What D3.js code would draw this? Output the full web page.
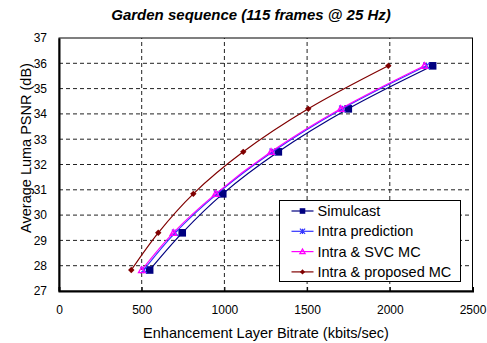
<!DOCTYPE html>
<html>
<head>
<meta charset="utf-8">
<script src="https://cdn.jsdelivr.net/npm/d3@7"></script>
<style>
  body { margin: 0; background: #fff; }
  svg { display: block; font-family: "Liberation Sans", Arial, sans-serif; }
</style>
</head>
<body>
<div id="chart"></div>
<script>
const seriesNames = ['Simulcast', 'Intra prediction', 'Intra & SVC MC', 'Intra & proposed MC'];
const psnr = [27.83, 29.3, 30.84, 32.5, 34.2, 35.9];
const simulcastRate = [548, 745, 990, 1326, 1749, 2259];
const intraRate = [512, 702, 956, 1292, 1713, 2222];
const svcRate = [500, 691, 947, 1282, 1703, 2209];
const proposedRate = [437, 600, 812, 1114, 1507, 1991];
const xTicks = [0, 500, 1000, 1500, 2000, 2500];
const yTicks = [27, 28, 29, 30, 31, 32, 33, 34, 35, 36, 37];

const width = 487, height = 343;
const margin = { top: 38, right: 14.5, bottom: 52, left: 59 };

const series = [
  { name: seriesNames[0], rates: simulcastRate, color: '#000080', marker: 'square' },
  { name: seriesNames[1], rates: intraRate, color: '#3333ff', marker: 'star' },
  { name: seriesNames[2], rates: svcRate, color: '#ff00ff', marker: 'triangle' },
  { name: seriesNames[3], rates: proposedRate, color: '#800000', marker: 'diamond' }
];

const svg = d3.select('#chart')
  .append('svg')
  .attr('width', width)
  .attr('height', height);

const x = d3.scaleLinear()
  .domain([0, 2500])
  .range([margin.left, width - margin.right]);

const y = d3.scaleLinear()
  .domain([27, 37])
  .range([height - margin.bottom, margin.top]);

// grid
svg.append('g')
  .attr('stroke', '#222')
  .attr('stroke-dasharray', '4,3')
  .selectAll('line')
  .data(xTicks.slice(1, -1))
  .enter()
  .append('line')
  .attr('x1', d => x(d)).attr('x2', d => x(d))
  .attr('y1', y(27)).attr('y2', y(37));

svg.append('g')
  .attr('stroke', '#222')
  .attr('stroke-dasharray', '4,3')
  .selectAll('line')
  .data(yTicks.slice(1, -1))
  .enter()
  .append('line')
  .attr('x1', x(0)).attr('x2', x(2500))
  .attr('y1', d => y(d)).attr('y2', d => y(d));

// frame
svg.append('rect')
  .attr('x', x(0)).attr('y', y(37))
  .attr('width', x(2500) - x(0)).attr('height', y(27) - y(37))
  .attr('fill', 'none').attr('stroke', '#000').attr('stroke-width', 1);

// axes
const xAxis = svg.append('g')
  .attr('transform', `translate(0,${y(27)})`)
  .call(d3.axisBottom(x).tickValues(xTicks).tickFormat(d3.format('d')).tickSize(-4).tickPadding(14));
const yAxis = svg.append('g')
  .attr('transform', `translate(${x(0)},0)`)
  .call(d3.axisLeft(y).tickValues(yTicks).tickFormat(d3.format('d')).tickSize(0).tickPadding(12));

[xAxis, yAxis].forEach(g => {
  g.select('.domain').attr('stroke', '#000').attr('stroke-width', 2);
  g.selectAll('text').attr('font-size', 12).attr('fill', '#000')
    .attr('font-family', '"Liberation Sans", Arial, sans-serif');
  g.selectAll('.tick line').attr('stroke', '#000');
});

// titles
svg.append('text')
  .attr('x', 251).attr('y', 20)
  .attr('text-anchor', 'middle')
  .attr('font-size', 15).attr('font-weight', 'bold').attr('font-style', 'italic')
  .text('Garden sequence (115 frames @ 25 Hz)');

svg.append('text')
  .attr('x', 266).attr('y', 338)
  .attr('text-anchor', 'middle')
  .attr('font-size', 14.5)
  .text('Enhancement Layer Bitrate (kbits/sec)');

svg.append('text')
  .attr('transform', 'translate(31,148) rotate(-90)')
  .attr('text-anchor', 'middle')
  .attr('font-size', 14.5)
  .text('Average Luma PSNR (dB)');

// markers
function drawMarker(g, type, color, s) {
  if (type === 'square') {
    g.append('rect').attr('x', -s).attr('y', -s).attr('width', 2 * s).attr('height', 2 * s)
      .attr('fill', color);
  } else if (type === 'diamond') {
    g.append('path').attr('d', `M0,${-s}L${s},0L0,${s}L${-s},0Z`).attr('fill', color);
  } else if (type === 'triangle') {
    g.append('path').attr('d', `M0,${-s}L${s},${s * 0.8}L${-s},${s * 0.8}Z`)
      .attr('fill', 'none').attr('stroke', color).attr('stroke-width', 1.3);
  } else if (type === 'star') {
    g.append('path')
      .attr('d', `M${-s},${-s}L${s},${s}M${-s},${s}L${s},${-s}M0,${-s}L0,${s}`)
      .attr('stroke', color).attr('stroke-width', 1.2);
  }
}

const line = d3.line()
  .x(d => x(d[0]))
  .y(d => y(d[1]))
  .curve(d3.curveCatmullRom);

const plot = svg.append('g');
series.forEach(s => {
  const pts = s.rates.map((r, i) => [r, psnr[i]]);
  plot.append('path')
    .attr('d', line(pts))
    .attr('fill', 'none')
    .attr('stroke', s.color)
    .attr('stroke-width', 1.2);
  plot.selectAll(null)
    .data(pts)
    .enter()
    .append('g')
    .attr('transform', d => `translate(${x(d[0])},${y(d[1])})`)
    .each(function () {
      drawMarker(d3.select(this), s.marker, s.color, s.marker === 'square' ? 3.8 : 3.2);
    });
});

// legend
const legend = svg.append('g').attr('transform', 'translate(279.5,200.5)');
legend.append('rect')
  .attr('width', 181).attr('height', 81)
  .attr('fill', '#fff').attr('stroke', '#000').attr('stroke-width', 1);

series.forEach((s, i) => {
  const row = legend.append('g').attr('transform', `translate(0,${10.5 + i * 20.3})`);
  row.append('line')
    .attr('x1', 12).attr('x2', 34)
    .attr('stroke', s.color).attr('stroke-width', 1.2);
  const m = row.append('g').attr('transform', 'translate(23,0)');
  drawMarker(m, s.marker, s.color, s.marker === 'square' ? 2.8 : 2.6);
  row.append('text')
    .attr('x', 38).attr('y', 0).attr('dy', '0.35em')
    .attr('font-size', 14.5)
    .text(s.name);
});
</script>
</body>
</html>
